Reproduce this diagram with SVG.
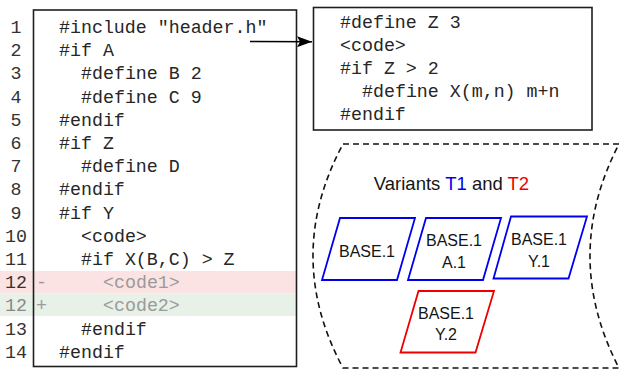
<svg xmlns="http://www.w3.org/2000/svg" width="619" height="371" viewBox="0 0 619 371">
  <style>
    .code { font-family: "Liberation Mono", "Courier New", monospace; font-size: 18.3px; fill: #262626; white-space: pre; }
    .num { font-family: "Liberation Mono", "Courier New", monospace; font-size: 18.3px; fill: #333; text-anchor: middle; }
    .dim { fill: #9a9a9a; }
    .box { fill: none; stroke: #1e1e1e; stroke-width: 1.6; }
    .label { font-family: "Liberation Sans", Arial, sans-serif; font-size: 16px; fill: #151515; text-anchor: middle; }
    .title { font-family: "Liberation Sans", Arial, sans-serif; font-size: 18.5px; fill: #151515; text-anchor: middle; }
    .t1 { stroke: #0000ee; stroke-width: 1.8; fill: #fff; }
    .t2 { stroke: #ee0000; stroke-width: 1.8; fill: #fff; }
  </style>
  <defs>
    <marker id="arrow" markerUnits="userSpaceOnUse" markerWidth="15" markerHeight="11" refX="15" refY="5.5" orient="auto">
      <path d="M0,0 L15,5.5 L0,11 L3,5.5 z" fill="#000"/>
    </marker>
  </defs>

  <rect width="619" height="371" fill="#fff"/>

  <!-- main source file with line numbers and a diff -->
  <g id="main-file">
    <rect x="0" y="271" width="296" height="22.5" fill="#fbe3e3"/>
    <rect x="0" y="293.5" width="296" height="22.5" fill="#e7f1e7"/>
    <rect class="box" x="33.5" y="10" width="263" height="356.5"/>
    <g>
      <text class="num" x="16" y="33">1</text>
      <text class="num" x="16" y="56.2">2</text>
      <text class="num" x="16" y="79.4">3</text>
      <text class="num" x="16" y="102.6">4</text>
      <text class="num" x="16" y="125.8">5</text>
      <text class="num" x="16" y="149">6</text>
      <text class="num" x="16" y="172.2">7</text>
      <text class="num" x="16" y="195.4">8</text>
      <text class="num" x="16" y="218.6">9</text>
      <text class="num" x="16" y="241.8">10</text>
      <text class="num" x="16" y="265">11</text>
      <text class="num" x="16" y="288.2">12</text>
      <text class="num" x="16" y="311.4" style="fill:#888">12</text>
      <text class="num" x="16" y="334.6">13</text>
      <text class="num" x="16" y="357.8">14</text>
    </g>
    <g>
      <text class="code" x="59" y="33">#include "header.h"</text>
      <text class="code" x="59" y="56.2">#if A</text>
      <text class="code" x="81" y="79.4">#define B 2</text>
      <text class="code" x="81" y="102.6">#define C 9</text>
      <text class="code" x="59" y="125.8">#endif</text>
      <text class="code" x="59" y="149">#if Z</text>
      <text class="code" x="81" y="172.2">#define D</text>
      <text class="code" x="59" y="195.4">#endif</text>
      <text class="code" x="59" y="218.6">#if Y</text>
      <text class="code" x="81" y="241.8">&lt;code&gt;</text>
      <text class="code" x="81" y="265">#if X(B,C) &gt; Z</text>
      <text class="code dim" x="36" y="288.2">-</text>
      <text class="code dim" x="103" y="288.2">&lt;code1&gt;</text>
      <text class="code dim" x="36" y="311.4">+</text>
      <text class="code dim" x="103" y="311.4">&lt;code2&gt;</text>
      <text class="code" x="81" y="334.6">#endif</text>
      <text class="code" x="59" y="357.8">#endif</text>
    </g>
  </g>

  <!-- included header -->
  <g id="header-file">
    <rect class="box" x="313.5" y="7.5" width="278.5" height="122.5"/>
    <text class="code" x="340" y="28">#define Z 3</text>
    <text class="code" x="340" y="51">&lt;code&gt;</text>
    <text class="code" x="340" y="74">#if Z &gt; 2</text>
    <text class="code" x="362" y="97">#define X(m,n) m+n</text>
    <text class="code" x="340" y="120">#endif</text>
  </g>

  <!-- variant set -->
  <g id="variants">
    <path d="M343,144 L619,144 Q561,256 619,368 L343,368 Q283,256 343,144 Z" fill="none" stroke="#111" stroke-width="1.6" stroke-dasharray="6 4"/>
    <text class="title" x="451.5" y="190">Variants <tspan fill="#0000ee">T1</tspan> and <tspan fill="#ee0000">T2</tspan></text>
  </g>

  <g id="variant-base">
    <polygon class="t1" points="340,218 415,218 397,280 322,280"/>
    <text class="label" x="367" y="257">BASE.1</text>
  </g>
  <g id="variant-a1">
    <polygon class="t1" points="426,218 501,218 483,280 408,280"/>
    <text class="label" x="454" y="246">BASE.1</text>
    <text class="label" x="454" y="268">A.1</text>
  </g>
  <g id="variant-y1">
    <polygon class="t1" points="511,216.5 587,216.5 568.5,278.5 493.5,278.5"/>
    <text class="label" x="539" y="245">BASE.1</text>
    <text class="label" x="539" y="267">Y.1</text>
  </g>
  <g id="variant-y2">
    <polygon class="t2" points="418.5,291 494,291 475.5,352.5 400.5,352.5"/>
    <text class="label" x="446" y="319">BASE.1</text>
    <text class="label" x="446" y="340">Y.2</text>
  </g>

  <!-- include edge -->
  <g id="connectors">
    <line x1="250" y1="41.5" x2="312" y2="41.8" stroke="#000" stroke-width="1.6" marker-end="url(#arrow)"/>
  </g>
</svg>
